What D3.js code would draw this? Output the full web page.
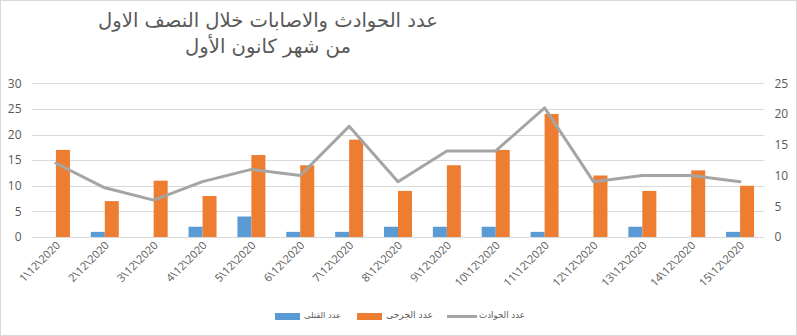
<!DOCTYPE html>
<html>
<head>
<meta charset="utf-8">
<script src="https://cdn.jsdelivr.net/npm/d3@7"></script>
<style>
  body { margin: 0; background: #fff; }
  svg { display: block; }
</style>
</head>
<body>
<svg id="chart" width="797" height="336"></svg>
<script>
// Daily figures, first half of December 2020
const categories = ["1\\12\\2020", "2\\12\\2020", "3\\12\\2020", "4\\12\\2020", "5\\12\\2020",
  "6\\12\\2020", "7\\12\\2020", "8\\12\\2020", "9\\12\\2020", "10\\12\\2020",
  "11\\12\\2020", "12\\12\\2020", "13\\12\\2020", "14\\12\\2020", "15\\12\\2020"];
const killed    = [0, 1, 0, 2, 4, 1, 1, 2, 2, 2, 1, 0, 2, 0, 1];
const injured   = [17, 7, 11, 8, 16, 14, 19, 9, 14, 17, 24, 12, 9, 13, 10];
const accidents = [12, 8, 6, 9, 11, 10, 18, 9, 14, 14, 21, 9, 10, 10, 9];

const leftTicks  = [0, 5, 10, 15, 20, 25, 30];
const rightTicks = [0, 5, 10, 15, 20, 25];

const titleLines = ["عدد الحوادث والاصابات خلال النصف الاول", "من شهر كانون الأول"];
const killedName = "عدد القتلى";
const injuredName = "عدد الجرحى";
const accidentsName = "عدد الحوادث";

const colors = { killed: "#5B9BD5", injured: "#ED7D31", accidents: "#A5A5A5", grid: "#D9D9D9", text: "#595959" };
const numFont = "'Open Sans', 'Liberation Sans', sans-serif";
const arFont = "'DejaVu Sans', sans-serif";

const svg = d3.select("#chart");

// outer frame
svg.append("rect")
  .attr("x", 0.5).attr("y", 0.5).attr("width", 796).attr("height", 335)
  .attr("fill", "#fff").attr("stroke", colors.grid);

const plot = { left: 31.5, right: 764.5, top: 83.3, bottom: 237 };

const x = d3.scaleBand().domain(categories).range([plot.left, plot.right]).padding(0);
const x1 = d3.scaleBand().domain(["killed", "injured"]).range([0, x.bandwidth()])
  .paddingInner(0).paddingOuter(0.745);
const yL = d3.scaleLinear().domain([0, 30]).range([plot.bottom, plot.top]);
const yR = d3.scaleLinear().domain([0, 25]).range([plot.bottom, plot.top]);

// horizontal gridlines
svg.append("g").selectAll("line").data(leftTicks).join("line")
  .attr("x1", plot.left).attr("x2", plot.right)
  .attr("y1", d => Math.round(yL(d)) + 0.5).attr("y2", d => Math.round(yL(d)) + 0.5)
  .attr("stroke", colors.grid).attr("stroke-width", 1);

// left value axis
const gL = svg.append("g").attr("transform", `translate(${plot.left},0)`)
  .call(d3.axisLeft(yL).tickValues(leftTicks).tickSize(0).tickPadding(10));
gL.select(".domain").remove();
gL.selectAll("text").attr("fill", colors.text).style("font", `12px ${numFont}`);

// right value axis (accidents)
const gR = svg.append("g").attr("transform", `translate(${plot.right},0)`)
  .call(d3.axisRight(yR).tickValues(rightTicks).tickSize(0).tickPadding(10));
gR.select(".domain").remove();
gR.selectAll("text").attr("fill", colors.text).style("font", `12px ${numFont}`);

// bars
const groups = svg.append("g").selectAll("g").data(categories).join("g")
  .attr("transform", d => `translate(${x(d)},0)`);

groups.append("rect")
  .attr("x", x1("killed")).attr("width", x1.bandwidth())
  .attr("y", (d, i) => yL(killed[i])).attr("height", (d, i) => yL(0) - yL(killed[i]))
  .attr("fill", colors.killed);

groups.append("rect")
  .attr("x", x1("injured")).attr("width", x1.bandwidth())
  .attr("y", (d, i) => yL(injured[i])).attr("height", (d, i) => yL(0) - yL(injured[i]))
  .attr("fill", colors.injured);

// accidents line on the secondary axis
const line = d3.line()
  .x((d, i) => x(categories[i]) + x.bandwidth() / 2)
  .y(d => yR(d));
svg.append("path").datum(accidents)
  .attr("d", line).attr("fill", "none")
  .attr("stroke", colors.accidents).attr("stroke-width", 3)
  .attr("stroke-linejoin", "round").attr("stroke-linecap", "round");

// category labels
svg.append("g").selectAll("text").data(categories).join("text")
  .attr("transform", d => `translate(${x(d) + x.bandwidth() / 2 + 5},${plot.bottom + 9}) rotate(-45)`)
  .attr("text-anchor", "end")
  .attr("fill", colors.text)
  .style("font", `11px ${numFont}`)
  .text(d => d);

// title
const title = svg.append("g");
title.selectAll("text").data(titleLines).join("text")
  .attr("x", 268).attr("y", (d, i) => 27 + i * 26)
  .attr("text-anchor", "middle")
  .attr("fill", colors.text)
  .style("font-family", arFont)
  .style("font-size", "20px")
  .text(d => d);
// fit the first title line to its width
const t0 = title.select("text").node();
const fs = 20 * 340 / t0.getComputedTextLength();
title.selectAll("text").style("font-size", `${fs}px`);

// legend: swatch, then the series name fitted to its slot
const legendItems = [
  { name: killedName, color: colors.killed, kind: "rect", sx: 275, tx: 304, tw: 37 },
  { name: injuredName, color: colors.injured, kind: "rect", sx: 357, tx: 386, tw: 47 },
  { name: accidentsName, color: colors.accidents, kind: "line", sx: 447, tx: 479, tw: 46 }
];
const legend = svg.append("g").attr("fill", colors.text);
legendItems.forEach(it => {
  if (it.kind === "rect") {
    legend.append("rect").attr("x", it.sx).attr("y", 313).attr("width", 25).attr("height", 7).attr("fill", it.color);
  } else {
    legend.append("line").attr("x1", it.sx).attr("x2", it.sx + 30).attr("y1", 316.5).attr("y2", 316.5)
      .attr("stroke", it.color).attr("stroke-width", 3);
  }
  const t = legend.append("text").attr("x", it.tx).attr("y", 318)
    .style("font-family", arFont).style("font-size", "11px").text(it.name);
  const w = t.node().getComputedTextLength();
  t.style("font-size", `${Math.min(11, 11 * it.tw / w)}px`);
});
</script>
</body>
</html>
